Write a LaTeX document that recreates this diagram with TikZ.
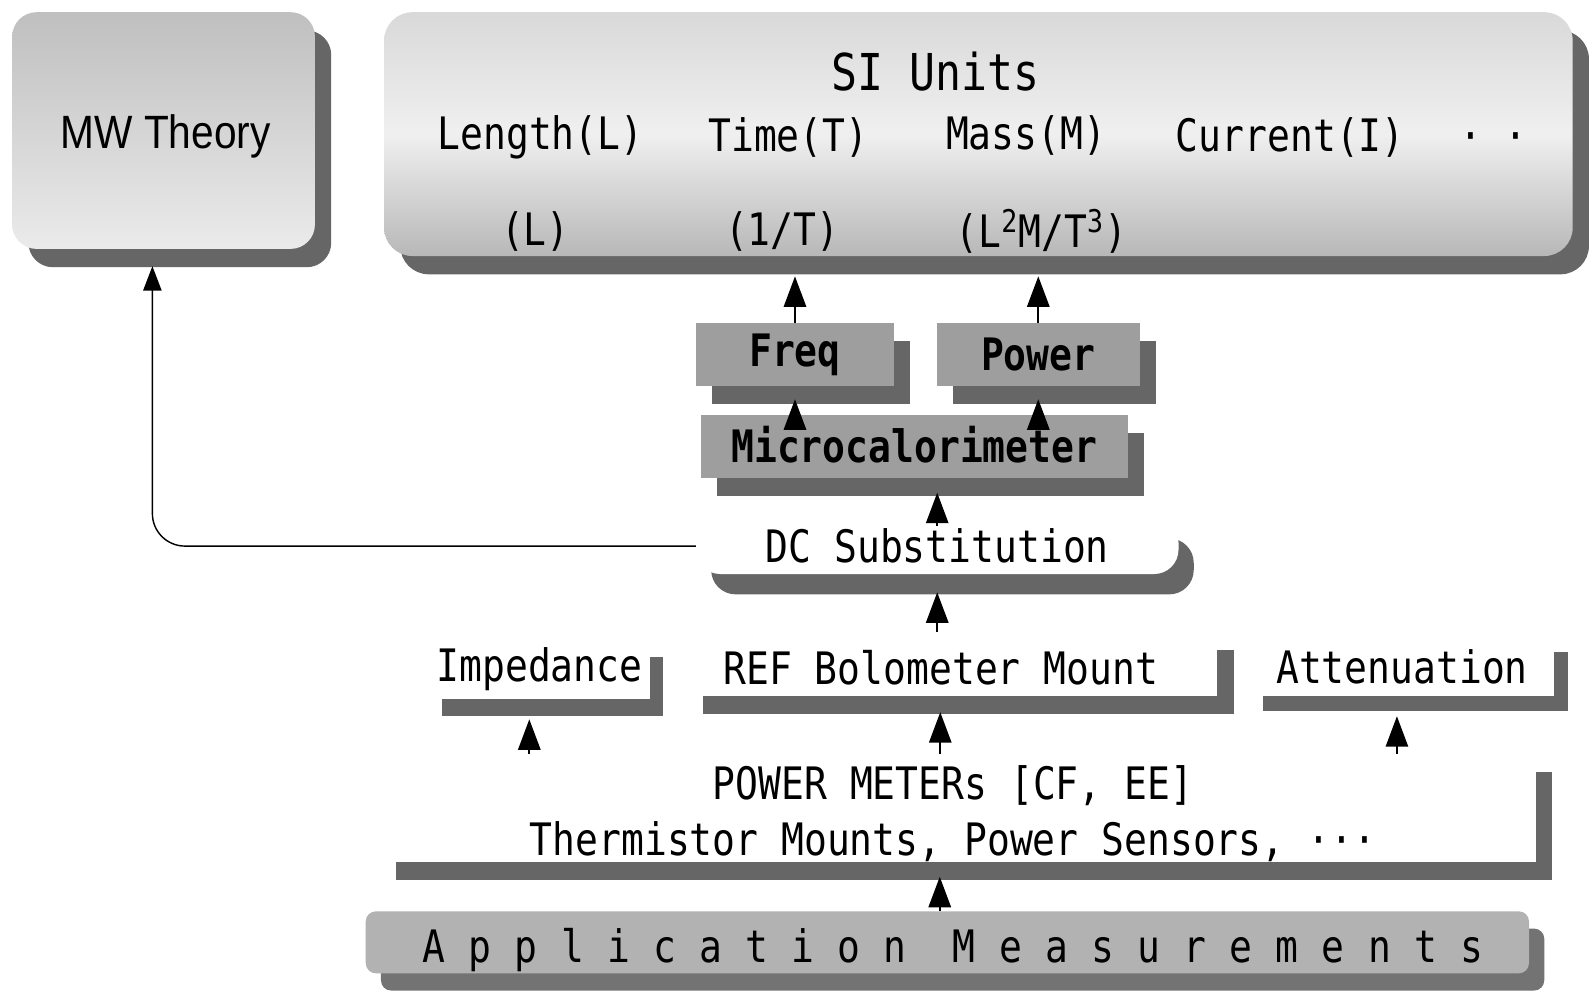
\documentclass[tikz,border=0pt]{standalone}
\usepackage{fontspec}
\usetikzlibrary{shadows,arrows.meta,calc}
\newfontfamily\monof[FakeStretch=0.85]{DejaVu Sans Mono}
\newfontfamily\appf[FakeStretch=0.85,LetterSpace=52]{DejaVu Sans Mono}
\newfontfamily\sansf[FakeStretch=0.87]{Liberation Sans}
\begin{document}
\begin{tikzpicture}[x=0.5pt,y=-0.5pt,
  txt/.style={font=\monof\fontsize{22}{26}\selectfont, inner sep=0pt},
  box/.style={inner sep=0pt, outer sep=0pt, anchor=center, font=\monof\fontsize{22}{26}\selectfont},
  boldbox/.style={box, font=\monof\bfseries\fontsize{22}{26}\selectfont, fill=black!38},
  shA/.style={drop shadow={shadow xshift=8pt, shadow yshift=-9pt, fill=black!60, opacity=1}},
  shB/.style={drop shadow={shadow xshift=6.5pt, shadow yshift=-8.5pt, fill=black!60, opacity=1}},
  shDC/.style={drop shadow={shadow xshift=7.5pt, shadow yshift=-10pt, fill=black!60, opacity=1}},
  arr/.style={line width=0.9pt, -{Triangle[length=15pt,width=11pt]}},
  thin/.style={line width=0.7pt, -{Triangle[length=12pt,width=9pt]}, rounded corners=16pt}
]
\fill[white] (0,0) rectangle (1568,976);
\useasboundingbox (0,0) rectangle (1568,976);

% MW Theory
\node[box, minimum width=149pt, minimum height=116.5pt, rounded corners=12pt,
      top color=black!25, bottom color=black!8, shA] (mw) at (161,128.5) {};
\node[txt, font=\sansf\fontsize{23}{26}\selectfont] (mwt) at (163,134) {MW Theory};

% SI Units
\node[box, minimum width=585pt, minimum height=120pt, rounded corners=14pt,
      top color=black!15, bottom color=black!28, middle color=black!6, shA] (si) at (963,132) {};
\node[txt, font=\monof\fontsize{25}{28}\selectfont] (siT) at (921,70) {SI Units};
\node[txt] (len) at (532,135) {Length(L)};
\node[txt] (tim) at (776,135) {Time(T)};
\node[txt] (mas) at (1010,133) {Mass(M)};
\node[txt] (cur) at (1270,135) {Current(I)};
\node[txt] (dots) at (1470,140) {· ·};
\node[txt] (uL) at (527,228) {(L)};
\node[txt] (uT) at (770,228) {(1/T)};
\node[txt] (uP) at (1025,228) {(L\textsuperscript{2}M/T\textsuperscript{3})};

% Freq, Power, Microcalorimeter
\node[boldbox, minimum width=97.5pt, minimum height=31pt, shA] (freq) at (782.5,349) {Freq};
\node[boldbox, minimum width=100pt, minimum height=31pt, shA] (power) at (1022,349) {Power};
\node[boldbox, minimum width=210pt, minimum height=31pt, shA] (micro) at (900,439) {};

% DC Substitution
\node[box, fill=white, minimum width=237.5pt, minimum height=27.5pt, rounded corners=12pt, shDC] (dc) at (922.5,537.5) {DC Substitution};

% Impedance, REF, Attenuation
\node[box, fill=white, minimum width=109pt, minimum height=29pt, shB] (imp) at (531,659) {Impedance};
\node[box, fill=white, minimum width=261.5pt, minimum height=31.5pt,
      drop shadow={shadow xshift=8.5pt, shadow yshift=-9pt, fill=black!60, opacity=1}] (ref) at (936.5,653.5) {};
\node[txt] (reft) at (926,657) {REF Bolometer Mount};
\node[box, fill=white, minimum width=150pt, minimum height=29pt,
      drop shadow={shadow xshift=6.5pt, shadow yshift=-7.5pt, fill=black!60, opacity=1}] (att) at (1380,656) {Attenuation};

% Power meters
\node[box, fill=white, minimum width=569pt, minimum height=53pt, shA] (pm) at (943,795) {};
\node[txt, align=center, font=\monof\fontsize{22}{27.5}\selectfont] (pmt) at (938,801)
      {POWER METERs [CF, EE]\\Thermistor Mounts, Power Sensors, ···};

% Application Measurements
\node[box, fill=black!30, minimum width=572.5pt, minimum height=30.5pt, rounded corners=5pt,
      drop shadow={shadow xshift=7.5pt, shadow yshift=-8.5pt, fill=black!55, opacity=1}] (app) at (932.5,927.5) {};
\node[txt, font=\appf\fontsize{22}{26}\selectfont] (appt) at (938,935) {Application Measurements};

% Connectors
\draw[arr] (freq.north) -- ($(si.south -| freq.north)+(0,20)$);
\draw[arr] (power.north) -- ($(si.south -| power.north)+(0,20)$);
\draw[arr] ($(micro.north -| freq.south)+(0,10)$) -- ($(freq.south)+(0,13)$);
\draw[arr] ($(micro.north -| power.south)+(0,10)$) -- ($(power.south)+(0,13)$);
\draw[arr] ($(dc.north)+(0,8)$) -- ($(dc.north |- micro.south)+(0,15)$);
\draw[arr] (ref.north -| dc.south) -- ($(dc.south)+(0,18)$);
\draw[arr] ($(pm.north -| imp.south)+(-10,0)$) -- ($(imp.south)+(-10,20)$);
\draw[arr] ($(pm.north -| ref.south)+(-11,0)$) -- ($(ref.south)+(-11,16)$);
\draw[arr] ($(pm.north -| att.south)+(-5,0)$) -- ($(att.south)+(-5,20)$);
\draw[arr] ($(app.north -| pm.south)+(-18,0)$) -- ($(pm.south)+(-18,15)$);
\draw[thin] (dc.west) -| ($(mw.south)+(-11,17)$);

% Microcalorimeter label on top of the arrow heads
\node[txt, font=\monof\bfseries\fontsize{22}{26}\selectfont] (microt) at (900,438) {Microcalorimeter};
\end{tikzpicture}
\end{document}
